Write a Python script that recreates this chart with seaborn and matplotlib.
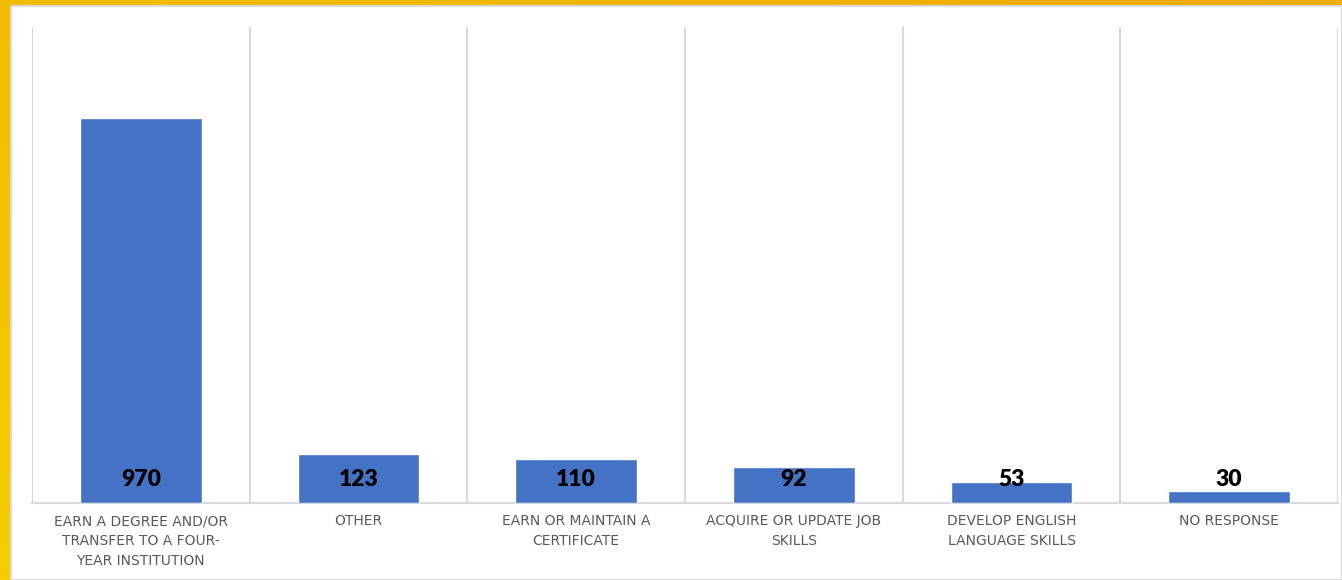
import matplotlib
matplotlib.use("Agg")
import matplotlib.pyplot as plt
import numpy as np
import pandas as pd
import seaborn as sns
from matplotlib.patches import Rectangle
from matplotlib.colors import LinearSegmentedColormap

categories = [
    "EARN A DEGREE AND/OR\nTRANSFER TO A FOUR-\nYEAR INSTITUTION",
    "OTHER",
    "EARN OR MAINTAIN A\nCERTIFICATE",
    "ACQUIRE OR UPDATE JOB\nSKILLS",
    "DEVELOP ENGLISH\nLANGUAGE SKILLS",
    "NO RESPONSE",
]
values = [970, 123, 110, 92, 53, 30]

sns.set_theme(style="white")
plt.rcParams["font.family"] = ["Lato", "DejaVu Sans"]

W, H = 1342, 580
fig = plt.figure(figsize=(W / 100, H / 100), dpi=100)

# gold frame background with gradient
bg = fig.add_axes([0, 0, 1, 1], zorder=-10)
gx = np.linspace(0, 1, 200)
gy = np.linspace(0, 1, 100)
X, Y = np.meshgrid(gx, gy)
grad = 0.5 * X + 0.5 * (1 - Y)
cmap = LinearSegmentedColormap.from_list("gold", ["#F7CC00", "#F0AC00"])
bg.imshow(grad, cmap=cmap, aspect="auto", extent=[0, 1, 0, 1], origin="upper")
bg.add_patch(Rectangle((11 / W, 0), 1 - 11 / W, 1 - 6 / H, facecolor="white",
                       edgecolor="#D9D9D9", linewidth=1.5, transform=bg.transAxes))
bg.set_xlim(0, 1)
bg.set_ylim(0, 1)
bg.axis("off")

ax = fig.add_axes([32 / W, 77 / H, 1306 / W, 476 / H])
ax.set_facecolor("none")
df = pd.DataFrame({"cat": categories, "val": values})
sns.barplot(data=df, x="cat", y="val", color="#4472C4", width=0.56,
            saturation=1, ax=ax, zorder=3)

ax.set_ylim(0, 1200)
ax.set_xlim(-0.5, len(categories) - 0.5)
ax.set_yticks([])
ax.set_xlabel("")
ax.set_ylabel("")

# vertical gridlines at category boundaries
ax.set_xticks(np.arange(-0.5, len(categories), 1.0), minor=True)
ax.grid(which="minor", axis="x", color="#D9D9D9", linewidth=1.5, zorder=0)
ax.grid(which="major", axis="both", visible=False)
ax.tick_params(axis="x", which="both", length=0, pad=8)
for lab in ax.get_xticklabels():
    lab.set_fontfamily("DejaVu Sans")
    lab.set_fontsize(10)
    lab.set_color("#595959")
    lab.set_linespacing(1.55)

for s in ["top", "right", "left"]:
    ax.spines[s].set_visible(False)
ax.spines["bottom"].set_color("#D9D9D9")
ax.spines["bottom"].set_linewidth(1.5)

for i, v in enumerate(values):
    ax.text(i, 58, str(v), ha="center", va="center", fontsize=16.5,
            fontweight="heavy", color="black", zorder=5)

fig.savefig("out.png", dpi=100)
